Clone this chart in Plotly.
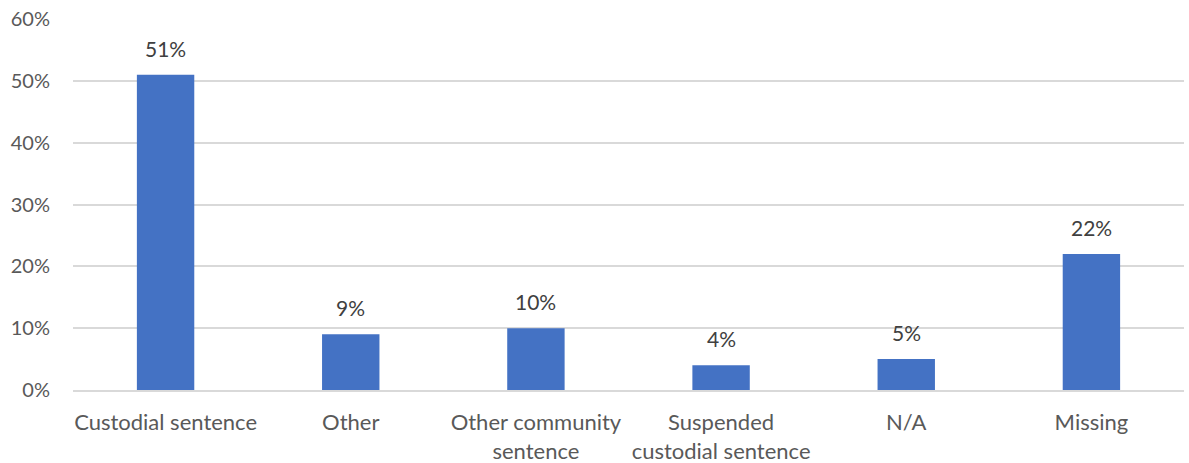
import plotly.graph_objects as go

categories = ["Custodial sentence", "Other", "Other community<br>sentence",
              "Suspended<br>custodial sentence", "N/A", "Missing"]
shares = [51, 9, 10, 4, 5, 22]
y_ticks = [0, 10, 20, 30, 40, 50, 60]
y_tick_labels = [f"{v}%" for v in y_ticks]

FONT = "Lato, Calibri, Arial, sans-serif"

fig = go.Figure(
    go.Bar(
        x=categories,
        y=shares,
        marker=dict(color="#4472C4", line=dict(width=0)),
        hoverinfo="x+y",
    )
)

# value labels floating above each bar
for cat, val in zip(categories, shares):
    fig.add_annotation(
        x=cat, y=val, text=f"{val}%",
        showarrow=False, yanchor="bottom", yshift=12,
        font=dict(family=FONT, size=21, color="#404040"),
    )

fig.update_layout(
    width=1189,
    height=463,
    margin=dict(l=73, r=5, t=19, b=73, autoexpand=False),
    paper_bgcolor="white",
    plot_bgcolor="white",
    bargap=0.69,
    showlegend=False,
    font=dict(family=FONT, size=18, color="#595959"),
)

fig.update_xaxes(
    automargin=False,
    showgrid=False,
    showline=True,
    linecolor="#D9D9D9",
    linewidth=2,
    ticks="",
    tickfont=dict(family=FONT, size=22, color="#595959"),
    ticklabelstandoff=12,
)

fig.update_yaxes(
    automargin=False,
    range=[0, 60],
    tickvals=y_ticks,
    ticktext=y_tick_labels,
    showgrid=True,
    gridcolor="#D9D9D9",
    gridwidth=2,
    zeroline=False,
    showline=False,
    ticks="",
    tickfont=dict(family=FONT, size=20, color="#595959"),
    ticklabelstandoff=22,
)

fig.write_html("out.html")
